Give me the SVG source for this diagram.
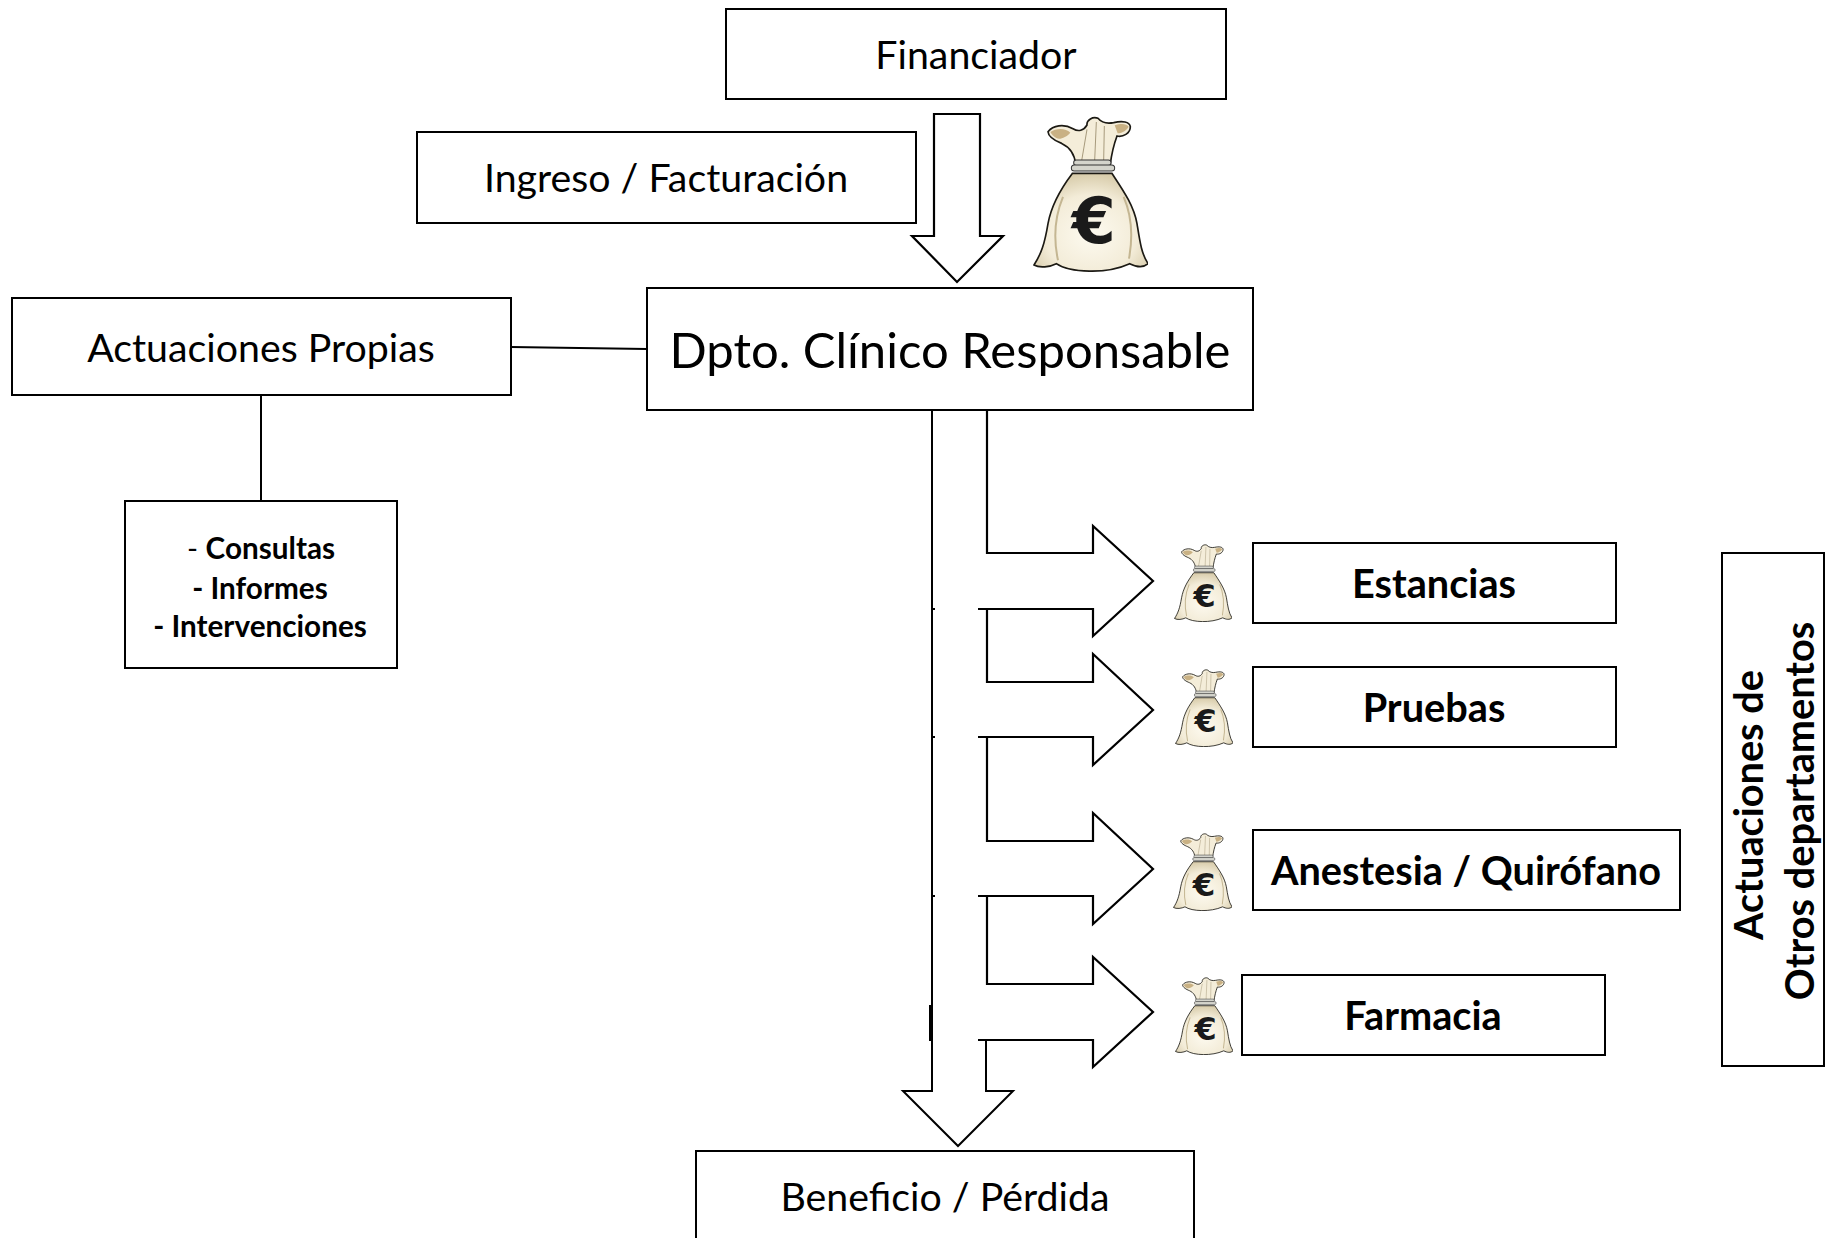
<svg xmlns="http://www.w3.org/2000/svg" width="1833" height="1238" viewBox="0 0 1833 1238">
<style>
.b{fill:#fff;stroke:#000;stroke-width:2}
.a{fill:#fff;stroke:#000;stroke-width:2.2;stroke-linejoin:miter}
.l{fill:none;stroke:#000;stroke-width:2}
text{font-family:"Lato","Carlito","Liberation Sans",sans-serif;fill:#000;text-anchor:middle}
.t{font-size:39.300px}
.h{font-size:49px}
.s{font-size:39.700px;font-weight:700}
.m{font-size:29.700px;font-weight:700}
</style>
<defs>
<radialGradient id="bg" cx="0.5" cy="0.62" r="0.62"><stop offset="0" stop-color="#fdfaf0"/><stop offset="0.65" stop-color="#f3ecd8"/><stop offset="1" stop-color="#d8ccab"/></radialGradient>
<symbol id="bag" viewBox="460 78 345 467" preserveAspectRatio="none">
<path d="M578 250C540 300 515 345 505 400C495 460 485 490 463 524C480 534 510 530 530 520C570 548 680 552 750 520C770 530 790 534 805 520C785 490 780 450 772 400C762 345 730 300 697 250Z" fill="url(#bg)" stroke="#1c1a14" stroke-width="5"/>
<path d="M588 222C585 195 572 172 546 160C526 152 506 140 505 125C520 106 552 100 580 116C596 126 612 122 622 105C620 90 640 78 655 85C665 97 682 102 702 98C728 92 750 95 752 110C752 130 730 142 712 138C702 165 696 190 692 222Z" fill="#f4edd9" stroke="#1c1a14" stroke-width="5"/>
<path d="M512 126C530 114 558 114 572 128C560 142 540 150 530 144C522 140 515 132 512 126ZM705 106C722 100 740 100 747 110C738 124 725 130 714 130Z" fill="#c9b184"/>
<path d="M622 118L606 212M650 96L645 212M674 108L672 212" fill="none" stroke="#a79a7c" stroke-width="3"/>
<path d="M550 320C525 380 520 440 535 510M732 320C758 380 760 440 748 505" fill="none" stroke="#c4b692" stroke-width="6"/>
<rect x="582" y="210" width="112" height="16" rx="8" fill="#d4d4cc" stroke="#333" stroke-width="3"/>
<rect x="575" y="225" width="130" height="18" rx="9" fill="#d4d4cc" stroke="#333" stroke-width="3"/>
<text x="642" y="458" style="font-family:'DejaVu Sans',sans-serif;font-size:190px;font-weight:700;fill:#1a1a1a">€</text>
</symbol>
</defs>

<g id="connectors">
<path class="a" d="M934 114H980V236H1003L957 282L912 236H934Z"/>
<path class="l" d="M511 347L647 349"/>
<path class="l" d="M261 395V501"/>
<path class="l" d="M932 410V1091H903L958 1146L1013 1091H986V1040" style="fill:#fff"/>
<path class="l" d="M930 1005V1040H933"/>
<path class="l" d="M932 609H935M932 737H935M932 896H935"/>
<path class="a" d="M987 410V553H1093V526L1153 581L1093 636V609H978"/>
<path class="a" d="M987 609V682H1093V654L1153 710L1093 765V737H978"/>
<path class="a" d="M987 737V841H1093V813L1153 869L1093 924V896H978"/>
<path class="a" d="M987 896V984H1093V957L1153 1012L1093 1067V1040H978"/>
</g>

<g id="financiador"><rect class="b" x="726" y="9" width="500" height="90"/><text class="t" x="976" y="69">Financiador</text></g>
<g id="ingreso"><rect class="b" x="417" y="132" width="499" height="91"/><text class="t" x="666" y="192">Ingreso / Facturación</text></g>
<g id="dpto"><rect class="b" x="647" y="288" width="606" height="122"/><text class="h" x="950" y="368">Dpto. Clínico Responsable</text></g>
<g id="propias"><rect class="b" x="12" y="298" width="499" height="97"/><text class="t" x="261" y="362">Actuaciones Propias</text></g>
<g id="lista"><rect class="b" x="125" y="501" width="272" height="167"/>
<text class="m" x="261" y="559"><tspan style="font-weight:400">- </tspan>Consultas</text>
<text class="m" x="260" y="599">- Informes</text>
<text class="m" x="260" y="637">- Intervenciones</text></g>
<g id="estancias"><rect class="b" x="1253" y="543" width="363" height="80"/><text class="s" x="1434" y="598">Estancias</text></g>
<g id="pruebas"><rect class="b" x="1253" y="667" width="363" height="80"/><text class="s" x="1434" y="722">Pruebas</text></g>
<g id="anestesia"><rect class="b" x="1253" y="830" width="427" height="80"/><text class="s" x="1466" y="885">Anestesia / Quirófano</text></g>
<g id="farmacia"><rect class="b" x="1242" y="975" width="363" height="80"/><text class="s" x="1423" y="1030">Farmacia</text></g>
<g id="otros"><rect class="b" x="1722" y="553" width="102" height="513"/>
<text class="s" transform="translate(1763 805) rotate(-90)">Actuaciones de</text>
<text class="s" transform="translate(1814 811) rotate(-90)">Otros departamentos</text></g>
<g id="beneficio"><rect class="b" x="696" y="1151" width="498" height="100"/><text class="t" x="945" y="1211">Beneficio / Pérdida</text></g>

<g id="bolsas">
<use href="#bag" x="1033" y="116" width="115" height="156"/>
<use href="#bag" x="1174" y="544" width="58" height="78"/>
<use href="#bag" x="1175" y="669" width="58" height="78"/>
<use href="#bag" x="1173" y="833" width="59" height="78"/>
<use href="#bag" x="1175" y="977" width="58" height="78"/>
</g>
</svg>
